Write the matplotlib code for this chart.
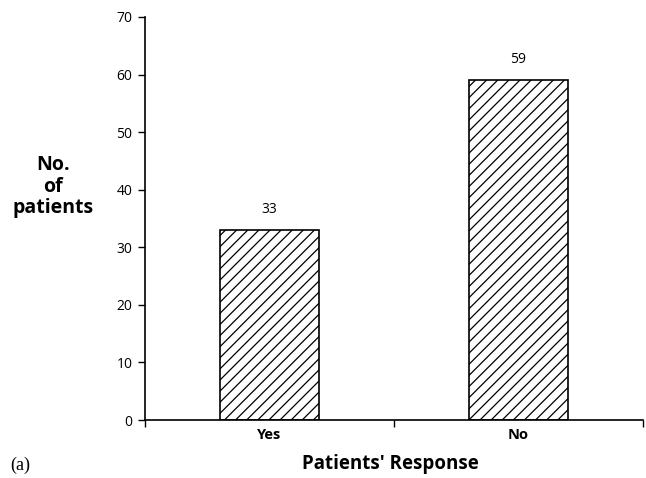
import matplotlib
matplotlib.use('Agg')
import matplotlib.pyplot as plt
from matplotlib.ticker import FixedLocator, NullFormatter

# data
categories = ['Yes', 'No']
counts = [33, 59]
y_ticks = [0, 10, 20, 30, 40, 50, 60, 70]

plt.rcParams['font.family'] = ['Open Sans', 'DejaVu Sans']
plt.rcParams['hatch.linewidth'] = 0.9

fig = plt.figure(figsize=(6.46, 4.78), dpi=100)
ax = fig.add_axes([145/646, 1 - 420/478, 498/646, 403/478])

pos = [0.5, 1.5]
bars = ax.bar(pos, counts, width=0.4, color='white', edgecolor='black',
              linewidth=1.2, hatch='///', zorder=2)

for x, v in zip(pos, counts):
	ax.annotate(str(v), (x, v), xytext=(0, 15), textcoords='offset points',
				ha='center', va='center', fontsize=10)

ax.set_xlim(0, 2)
ax.set_ylim(0, 70)
ax.set_yticks(y_ticks)
ax.tick_params(axis='y', direction='out', length=5, width=1, labelsize=10, pad=4)

ax.set_xticks(pos)
ax.set_xticklabels(categories, fontsize=10.5, fontweight='bold')
ax.tick_params(axis='x', which='major', length=0, pad=6)
ax.xaxis.set_minor_locator(FixedLocator([0, 1, 2]))
ax.xaxis.set_minor_formatter(NullFormatter())
ax.tick_params(axis='x', which='minor', direction='out', length=5, width=1)

for s in ['top', 'right']:
	ax.spines[s].set_visible(False)
for s in ['left', 'bottom']:
	ax.spines[s].set_linewidth(1.2)

fig.text(53/646, 1 - 187/478, 'No.\nof\npatients', ha='center', va='center',
		 fontsize=14, fontweight='bold', linespacing=1.1)
fig.text(390/646, 1 - 464/478, "Patients' Response", ha='center', va='center',
		 fontsize=13.5, fontweight='bold')
fig.text(10/646, 1 - 465/478, '(a)', ha='left', va='center', fontsize=13,
		 family=['Liberation Serif', 'DejaVu Serif'])

fig.savefig('out.png', dpi=100)
